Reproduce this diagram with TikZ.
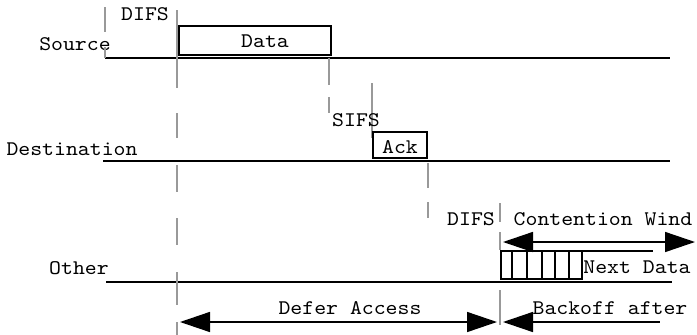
\documentclass[tikz,border=0pt]{standalone}
\usepackage{fontspec}
\newfontfamily\monofam{lmmono10-regular.otf}[FakeStretch=1.09]
\usetikzlibrary{arrows.meta}
\begin{document}
\begin{tikzpicture}[x=1pt,y=-1pt,font=\monofam\fontsize{20.8}{24}\selectfont,
  tick/.style={black!40,line width=1.5pt},
  timeline/.style={line width=1.5pt},
  frame/.style={line width=2pt},
  span/.style={line width=1.5pt,{Triangle[length=30pt,width=20pt]}-{Triangle[length=30pt,width=20pt]}}]
\useasboundingbox (0,0) rectangle (697,335);
% time lines
\draw[timeline] (105,58) -- (670,58);
\node (src) at (75,44) {Source};
\draw[timeline] (103,161) -- (670,161);
\node (dst) at (72,149) {Destination};
\draw[timeline] (106,282) -- (672,282);
\node (oth) at (79,268) {Other};
% gray markers
\draw[tick] (105,7)--(105,32) (105,47)--(105,58);
\foreach \a/\b in {10/88,113/138,165/192,218/245,272/305,322/335}
  \draw[tick] (177,\a)--(177,\b);
\draw[tick] (329,58)--(329,85) (329,97)--(329,113);
\draw[tick] (372,83)--(372,138);
\draw[tick] (428,163)--(428,188) (428,202)--(428,218);
\draw[tick] (500,203)--(500,222) (500,232)--(500,250) (500,290)--(500,325);
% frames
\draw[frame] (179,26) rectangle (331,55);
\node (data) at (265,41) {Data};
\draw[frame] (373,132) rectangle (427,158);
\node (ack) at (400,147) {Ack};
\node (difs1) at (145,14) {DIFS};
\node (sifs) at (356,120) {SIFS};
\node (difs2) at (471,219) {DIFS};
% contention window
\node (cw) at (603,219) {Contention Wind};
\draw[span] (503,242) -- (695,242);
\draw[timeline] (501,251) -- (653,251);
\foreach \a/\b in {501/511.7,511.7/527.3,527.3/541.7,541.7/555,555/569,569/582.3}
  \draw[frame] (\a,251) rectangle (\b,279);
\node (next) at (637,267) {Next Data};
% defer and backoff
\draw[span] (180,322) -- (497,322);
\node (defer) at (350,308) {Defer Access};
\draw[line width=1.5pt,{Triangle[length=30pt,width=20pt]}-] (503,322) -- (660,322);
\node (back) at (610,308) {Backoff after};
\end{tikzpicture}
\end{document}
